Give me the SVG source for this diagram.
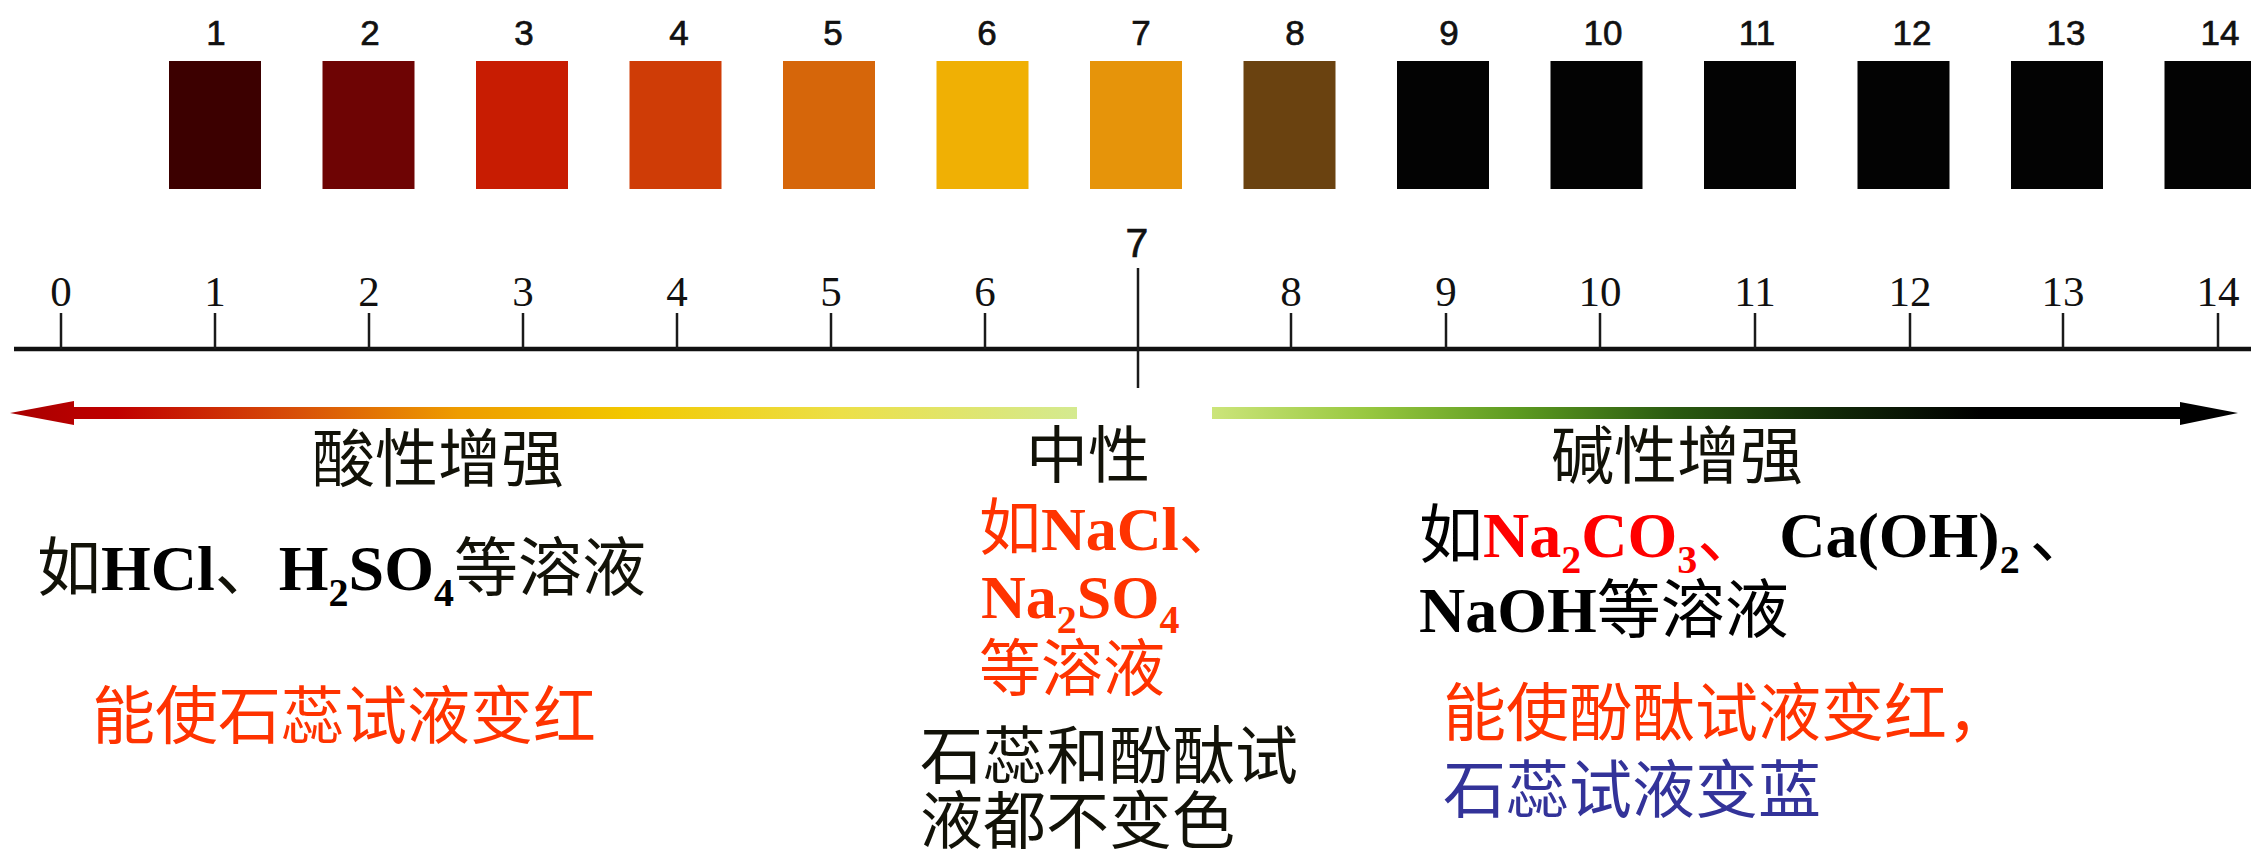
<svg xmlns="http://www.w3.org/2000/svg" width="2251" height="853" viewBox="0 0 2251 853">
<defs>
<style>
.num{font-family:"Liberation Sans",Arial,sans-serif;font-size:35px;fill:#111;stroke:#111;stroke-width:0.7;text-anchor:middle}
.ax{font-family:"Liberation Serif","Times New Roman",serif;font-size:43px;fill:#111;text-anchor:middle}
.tick{stroke:#1a1a1a;stroke-width:2.5}
.cj{font-family:"Liberation Serif","Noto Sans CJK SC",serif;font-size:63px}
.lat{font-family:"Liberation Serif","Times New Roman",serif;font-weight:bold}
.blk{fill:#121208}
.red{fill:#ff3300}
.pure{fill:#ff0000}
.blue{fill:#333399}
.sub{font-size:40px}
</style>
<linearGradient id="gl" gradientUnits="userSpaceOnUse" x1="10" y1="0" x2="1077" y2="0">
<stop offset="0" stop-color="#a80000"/>
<stop offset="0.1" stop-color="#c00000"/>
<stop offset="0.27" stop-color="#d85008"/>
<stop offset="0.42" stop-color="#ee9c00"/>
<stop offset="0.58" stop-color="#f2c800"/>
<stop offset="0.78" stop-color="#ece048"/>
<stop offset="1" stop-color="#d4ea90"/>
</linearGradient>
<linearGradient id="gr" gradientUnits="userSpaceOnUse" x1="1212" y1="0" x2="2238" y2="0">
<stop offset="0" stop-color="#cce57a"/>
<stop offset="0.15" stop-color="#98c840"/>
<stop offset="0.3" stop-color="#5c9a20"/>
<stop offset="0.45" stop-color="#2a5a10"/>
<stop offset="0.6" stop-color="#122a08"/>
<stop offset="0.75" stop-color="#000000"/>
<stop offset="1" stop-color="#000000"/>
</linearGradient>
</defs>
<rect width="2251" height="853" fill="#ffffff"/>

<g id="swatches">
<rect x="169" y="61" width="92" height="128" fill="#3c0000"/>
<rect x="322.5" y="61" width="92" height="128" fill="#6e0404"/>
<rect x="476" y="61" width="92" height="128" fill="#c81c02"/>
<rect x="629.5" y="61" width="92" height="128" fill="#cf3c06"/>
<rect x="783" y="61" width="92" height="128" fill="#d6660a"/>
<rect x="936.5" y="61" width="92" height="128" fill="#f0b004"/>
<rect x="1090" y="61" width="92" height="128" fill="#e6940a"/>
<rect x="1243.5" y="61" width="92" height="128" fill="#6a4210"/>
<rect x="1397" y="61" width="92" height="128" fill="#030303"/>
<rect x="1550.5" y="61" width="92" height="128" fill="#030303"/>
<rect x="1704" y="61" width="92" height="128" fill="#030303"/>
<rect x="1857.5" y="61" width="92" height="128" fill="#030303"/>
<rect x="2011" y="61" width="92" height="128" fill="#030303"/>
<rect x="2164.5" y="61" width="92" height="128" fill="#030303"/>
</g>
<g id="swatch-numbers">
<text class="num" x="216" y="45">1</text>
<text class="num" x="370" y="45">2</text>
<text class="num" x="524" y="45">3</text>
<text class="num" x="679" y="45">4</text>
<text class="num" x="833" y="45">5</text>
<text class="num" x="987" y="45">6</text>
<text class="num" x="1141" y="45">7</text>
<text class="num" x="1295" y="45">8</text>
<text class="num" x="1449" y="45">9</text>
<text class="num" x="1603" y="45">10</text>
<text class="num" x="1757" y="45">11</text>
<text class="num" x="1912" y="45">12</text>
<text class="num" x="2066" y="45">13</text>
<text class="num" x="2220" y="45">14</text>
</g>

<g id="axis">
<line x1="14" y1="349" x2="2251" y2="349" stroke="#111" stroke-width="4.5"/>
<line class="tick" x1="61" y1="313" x2="61" y2="349"/>
<line class="tick" x1="215" y1="313" x2="215" y2="349"/>
<line class="tick" x1="369" y1="313" x2="369" y2="349"/>
<line class="tick" x1="523" y1="313" x2="523" y2="349"/>
<line class="tick" x1="677" y1="313" x2="677" y2="349"/>
<line class="tick" x1="831" y1="313" x2="831" y2="349"/>
<line class="tick" x1="985" y1="313" x2="985" y2="349"/>
<line class="tick" x1="1138" y1="268" x2="1138" y2="388"/>
<line class="tick" x1="1291" y1="313" x2="1291" y2="349"/>
<line class="tick" x1="1446" y1="313" x2="1446" y2="349"/>
<line class="tick" x1="1600" y1="313" x2="1600" y2="349"/>
<line class="tick" x1="1755" y1="313" x2="1755" y2="349"/>
<line class="tick" x1="1910" y1="313" x2="1910" y2="349"/>
<line class="tick" x1="2063" y1="313" x2="2063" y2="349"/>
<line class="tick" x1="2218" y1="313" x2="2218" y2="349"/>
<text class="ax" x="61" y="306">0</text>
<text class="ax" x="215" y="306">1</text>
<text class="ax" x="369" y="306">2</text>
<text class="ax" x="523" y="306">3</text>
<text class="ax" x="677" y="306">4</text>
<text class="ax" x="831" y="306">5</text>
<text class="ax" x="985" y="306">6</text>
<text class="num" x="1137" y="257" style="font-size:41px">7</text>
<text class="ax" x="1291" y="306">8</text>
<text class="ax" x="1446" y="306">9</text>
<text class="ax" x="1600" y="306">10</text>
<text class="ax" x="1755" y="306">11</text>
<text class="ax" x="1910" y="306">12</text>
<text class="ax" x="2063" y="306">13</text>
<text class="ax" x="2218" y="306">14</text>
</g>

<g id="connectors">
<g id="arrow-acid">
<rect x="70" y="407" width="1007" height="12" fill="url(#gl)"/>
<polygon points="10,413 74,401 74,425" fill="url(#gl)"/>
</g>
<g id="arrow-base">
<rect x="1212" y="407" width="972" height="12" fill="url(#gr)"/>
<polygon points="2180,402 2238,413 2180,425" fill="url(#gr)"/>
</g>
</g>

<g id="acid">
<text class="cj blk" x="312" y="481" style="font-family:'Noto Sans CJK SC',sans-serif;font-size:63px">酸性增强</text>
<text class="cj blk" x="37" y="590" style="font-size:64px"><tspan style="font-family:'Noto Sans CJK SC',sans-serif">如</tspan><tspan class="lat" fill="#000">HCl</tspan><tspan style="font-family:'Noto Sans CJK SC',sans-serif">、</tspan><tspan class="lat" fill="#000">H</tspan><tspan class="lat sub" fill="#000" dy="16">2</tspan><tspan class="lat" fill="#000" dy="-16">SO</tspan><tspan class="lat sub" fill="#000" dy="16">4</tspan><tspan dy="-16" style="font-family:'Noto Sans CJK SC',sans-serif">等溶液</tspan></text>
<text class="cj red" x="92" y="738" style="font-family:'Noto Sans CJK SC',sans-serif">能使石蕊试液变红</text>
</g>

<g id="neutral">
<text class="cj blk" x="1026" y="478" style="font-family:'Noto Sans CJK SC',sans-serif;font-size:62px">中性</text>
<text class="cj red" x="979" y="550" style="font-size:62px"><tspan style="font-family:'Noto Sans CJK SC',sans-serif">如</tspan><tspan class="lat">NaCl</tspan><tspan style="font-family:'Noto Sans CJK SC',sans-serif">、</tspan></text>
<text class="cj red" x="981" y="618" style="font-size:62px"><tspan class="lat">Na</tspan><tspan class="lat sub" dy="15">2</tspan><tspan class="lat" dy="-15">SO</tspan><tspan class="lat sub" dy="15">4</tspan></text>
<text class="cj red" x="979" y="691" style="font-family:'Noto Sans CJK SC',sans-serif;font-size:62px">等溶液</text>
<text class="cj blk" x="920" y="778" style="font-family:'Noto Sans CJK SC',sans-serif">石蕊和酚酞试</text>
<text class="cj blk" x="920" y="843" style="font-family:'Noto Sans CJK SC',sans-serif">液都不变色</text>
</g>

<g id="base">
<text class="cj blk" x="1551" y="478" style="font-family:'Noto Sans CJK SC',sans-serif;font-size:63px">碱性增强</text>
<text class="cj" x="1419" y="557" style="font-size:64px"><tspan fill="#000" style="font-family:'Noto Sans CJK SC',sans-serif">如</tspan><tspan class="lat pure">Na</tspan><tspan class="lat pure sub" dy="16">2</tspan><tspan class="lat pure" dy="-16">CO</tspan><tspan class="lat pure sub" dy="16">3</tspan><tspan class="pure" dy="-16" style="font-family:'Noto Sans CJK SC',sans-serif">、</tspan><tspan class="lat" fill="#000" dx="18">Ca(OH)</tspan><tspan class="lat sub" fill="#000" dy="16">2</tspan><tspan fill="#000" dx="10" dy="-16" style="font-family:'Noto Sans CJK SC',sans-serif">、</tspan></text>
<text class="cj" x="1419" y="632" style="font-size:64px"><tspan class="lat" fill="#000">NaOH</tspan><tspan fill="#000" style="font-family:'Noto Sans CJK SC',sans-serif">等溶液</tspan></text>
<text class="cj red" x="1443" y="735" style="font-family:'Noto Sans CJK SC',sans-serif">能使酚酞试液变红，</text>
<text class="cj blue" x="1443" y="812" style="font-family:'Noto Sans CJK SC',sans-serif">石蕊试液变蓝</text>
</g>
</svg>
